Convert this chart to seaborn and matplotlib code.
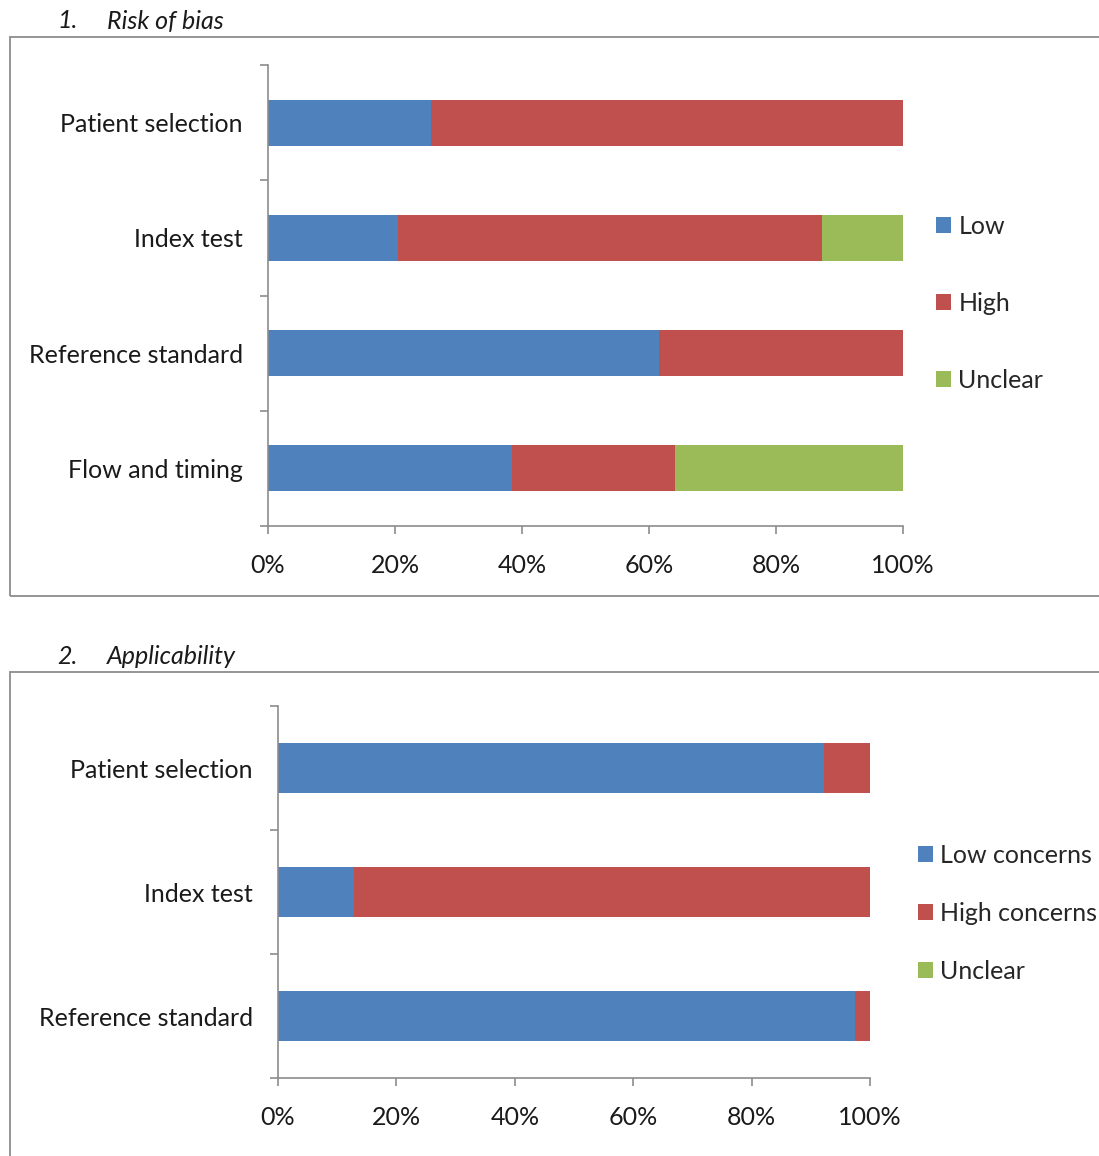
import matplotlib
matplotlib.use("Agg")
import matplotlib.pyplot as plt
import seaborn as sns
import pandas as pd
import numpy as np
from matplotlib.patches import Rectangle, Patch

sns.set_style("white")
plt.rcParams['font.family'] = ['Lato', 'DejaVu Sans']

# ---- data ----
rob_domains = ["Patient selection", "Index test", "Reference standard", "Flow and timing"]
rob_low = [25.6, 20.5, 61.5, 38.5]
rob_high = [74.4, 66.7, 38.5, 25.6]
rob_unclear = [0.0, 12.8, 0.0, 35.9]
rob_labels = ["Low", "High", "Unclear"]

app_domains = ["Patient selection", "Index test", "Reference standard"]
app_low = [92.3, 12.8, 97.4]
app_high = [7.7, 87.2, 2.6]
app_unclear = [0.0, 0.0, 0.0]
app_labels = ["Low concerns", "High concerns", "Unclear"]

x_ticks = [0, 20, 40, 60, 80, 100]
x_ticklabels = ["0%", "20%", "40%", "60%", "80%", "100%"]

colors = ["#4F81BD", "#C0504D", "#9BBB59"]

FS = 18
TXT = "#1a1a1a"
GR = "#8c8c8c"

W, H = 1099, 1156
fig = plt.figure(figsize=(W / 100, H / 100), dpi=100)

def fx(px):
    return px / W

def fy(py):
    return 1 - py / H

# frames
fig.patches.append(Rectangle((fx(10), fy(596)), fx(1200) - fx(10), fy(37) - fy(596),
                             transform=fig.transFigure, fill=False, edgecolor=GR, lw=1.3))
fig.patches.append(Rectangle((fx(10), fy(1250)), fx(1200) - fx(10), fy(672) - fy(1250),
                             transform=fig.transFigure, fill=False, edgecolor=GR, lw=1.3))

fig.text(fx(57), fy(21), "1.", style="italic", fontsize=FS, va="center", color=TXT)
fig.text(fx(107), fy(21), "Risk of bias", style="italic", fontsize=FS, va="center", color=TXT)
fig.text(fx(57), fy(656), "2.", style="italic", fontsize=FS, va="center", color=TXT)
fig.text(fx(107), fy(656), "Applicability", style="italic", fontsize=FS, va="center", color=TXT)


def draw(ax, domains, low, high, unclear, labels, legend_anchor, legend_spacing):
    df = pd.DataFrame({"domain": domains, "low": low, "high": high, "unclear": unclear})
    c1 = df["low"]
    c2 = df["low"] + df["high"]
    c3 = c2 + df["unclear"]
    for cum, col in zip([c3, c2, c1], [colors[2], colors[1], colors[0]]):
        sns.barplot(x=cum, y=df["domain"], orient="h", color=col, width=0.4,
                    ax=ax, saturation=1, edgecolor="none", linewidth=0)
    n = len(domains)
    ax.set_xlim(0, 100)
    ax.set_ylim(n - 0.5, -0.5)
    ax.set_xticks(x_ticks)
    ax.set_xticklabels(x_ticklabels, fontsize=FS, color=TXT)
    ax.set_yticks(range(n))
    ax.set_yticklabels(domains, fontsize=FS, color=TXT)
    ax.set_yticks(np.arange(-0.5, n, 1.0), minor=True)
    ax.tick_params(axis="y", which="major", left=True, length=0, pad=18)
    ax.tick_params(axis="y", which="minor", left=True, length=6, color=GR, width=1.2, direction="out")
    ax.tick_params(axis="x", bottom=True, length=6, color=GR, width=1.2, direction="out", pad=14)
    ax.set_xlabel("")
    ax.set_ylabel("")
    for s in ["top", "right"]:
        ax.spines[s].set_visible(False)
    for s in ["left", "bottom"]:
        ax.spines[s].set_color(GR)
        ax.spines[s].set_linewidth(1.2)
    handles = [Patch(facecolor=c, edgecolor="none") for c in colors]
    ax.legend(handles, labels, loc="upper left", bbox_to_anchor=legend_anchor,
              bbox_transform=fig.transFigure, frameon=False, fontsize=FS,
              handlelength=0.6, handleheight=0.6, handletextpad=0.3,
              labelspacing=legend_spacing, borderaxespad=0, borderpad=0)


ax1 = fig.add_axes([fx(268), fy(526), fx(903) - fx(268), fy(65) - fy(526)])
draw(ax1, rob_domains, rob_low, rob_high, rob_unclear, rob_labels,
     (fx(936), fy(215)), 2.15)

ax2 = fig.add_axes([fx(278), fy(1078), fx(870) - fx(278), fy(706) - fy(1078)])
draw(ax2, app_domains, app_low, app_high, app_unclear, app_labels,
     (fx(918), fy(844)), 1.4)

fig.savefig("out.png", dpi=100)
